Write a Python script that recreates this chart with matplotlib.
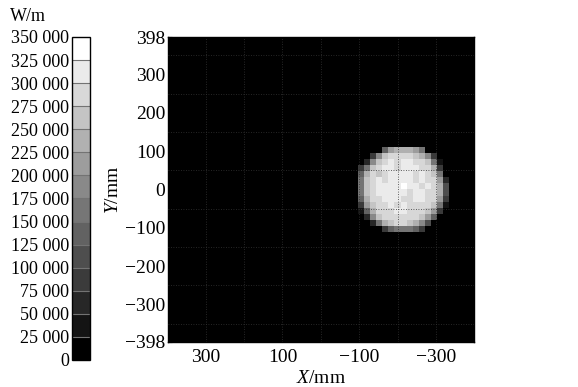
import numpy as np
import matplotlib
matplotlib.use('Agg')
import matplotlib.pyplot as plt
from matplotlib.colors import BoundaryNorm, ListedColormap
from matplotlib.ticker import FuncFormatter

plt.rcParams['font.family'] = ['Liberation Serif', 'DejaVu Serif']
plt.rcParams['mathtext.fontset'] = 'custom'
plt.rcParams['mathtext.rm'] = 'Liberation Serif'
plt.rcParams['mathtext.it'] = 'Liberation Serif:italic'

# Grid of the measured line power density, 50 x 50 cells over +-398 mm
N_CELLS = 50
HALF = 398
# bright spot, values in kW/m; rows 18..31, columns 31..45 (from the left)
SPOT_ROW0 = 18
SPOT_COL0 = 31
spot = [
    [0, 0, 0, 0, 125, 200, 225, 225, 225, 200, 150, 0, 0, 0, 0],
    [0, 0, 75, 175, 250, 275, 275, 275, 275, 250, 225, 175, 75, 0, 0],
    [0, 50, 175, 250, 275, 300, 275, 300, 300, 275, 275, 250, 150, 25, 0],
    [75, 150, 250, 275, 300, 300, 275, 300, 300, 300, 275, 275, 225, 75, 0],
    [125, 225, 275, 250, 275, 300, 300, 300, 300, 275, 300, 275, 250, 150, 0],
    [150, 250, 275, 300, 275, 300, 300, 300, 300, 275, 300, 275, 275, 200, 50],
    [150, 250, 275, 300, 300, 300, 300, 325, 300, 300, 275, 300, 275, 225, 100],
    [150, 250, 275, 300, 300, 300, 300, 300, 275, 300, 300, 275, 275, 225, 100],
    [125, 225, 275, 275, 300, 300, 300, 275, 275, 300, 300, 275, 275, 200, 75],
    [75, 200, 250, 275, 275, 300, 275, 300, 275, 275, 275, 275, 250, 150, 25],
    [25, 125, 225, 275, 275, 275, 300, 300, 275, 275, 275, 250, 200, 75, 0],
    [0, 50, 175, 250, 275, 275, 275, 275, 275, 275, 250, 200, 125, 0, 0],
    [0, 0, 50, 150, 225, 250, 275, 275, 250, 225, 175, 100, 0, 0, 0],
    [0, 0, 0, 0, 75, 125, 150, 150, 150, 125, 75, 0, 0, 0, 0],
]
levels = list(range(0, 350001, 25000))
x_ticks = [300, 100, -100, -300]
y_ticks = [398, 300, 200, 100, 0, -100, -200, -300, -398]
grid_x = [300, 200, 100, 0, -100, -200, -300]
grid_y = [350, 250, 150, 50, -50, -150, -250, -350]

field = np.zeros((N_CELLS, N_CELLS))
sp = np.array(spot) * 1000.0
field[SPOT_ROW0:SPOT_ROW0 + sp.shape[0], SPOT_COL0:SPOT_COL0 + sp.shape[1]] = sp

n_band = len(levels) - 1
cmap = ListedColormap([str(i / (n_band - 1)) for i in range(n_band)])
norm = BoundaryNorm(levels, cmap.N)

fig = plt.figure(figsize=(5.78, 3.87), dpi=100)
ax = fig.add_axes([0.2907, 0.1163, 0.529, 0.788])
cax = fig.add_axes([0.1246, 0.0698, 0.031, 0.8346])

# x axis runs from +398 on the left to -398 on the right
im = ax.imshow(field, cmap=cmap, norm=norm, interpolation='nearest',
               extent=[HALF, -HALF, -HALF, HALF], aspect='auto')
ax.set_xlim(HALF, -HALF)
ax.set_ylim(-HALF, HALF)
for gx in grid_x:
    ax.axvline(gx, color='0.2', lw=0.6, ls=(0, (1, 2)), zorder=3)
for gy in grid_y:
    ax.axhline(gy, color='0.2', lw=0.6, ls=(0, (1, 2)), zorder=3)

ax.set_xticks(x_ticks)
ax.set_yticks(y_ticks)
ax.tick_params(direction='in', length=3, color='black', labelsize=14, pad=2)
ax.tick_params(axis='x', pad=5)
ax.set_xlabel('$X$/mm', fontsize=14, labelpad=3)
ax.set_ylabel('$Y$/mm', fontsize=14, labelpad=2)
for s in ax.spines.values():
    s.set_linewidth(1.0)

cbar = fig.colorbar(im, cax=cax, ticks=levels, drawedges=True)
cbar.ax.yaxis.set_ticks_position('left')
cbar.ax.tick_params(length=0, labelsize=13, pad=2)
cbar.ax.yaxis.set_major_formatter(
    FuncFormatter(lambda v, p: f'{int(v):,}'.replace(',', ' ')))
cbar.dividers.set_color('0.45')
cbar.dividers.set_linewidth(0.8)
cbar.outline.set_linewidth(1.0)
fig.text(0.017, 0.945, 'W/m', fontsize=13)

fig.savefig('out.png', dpi=100)
